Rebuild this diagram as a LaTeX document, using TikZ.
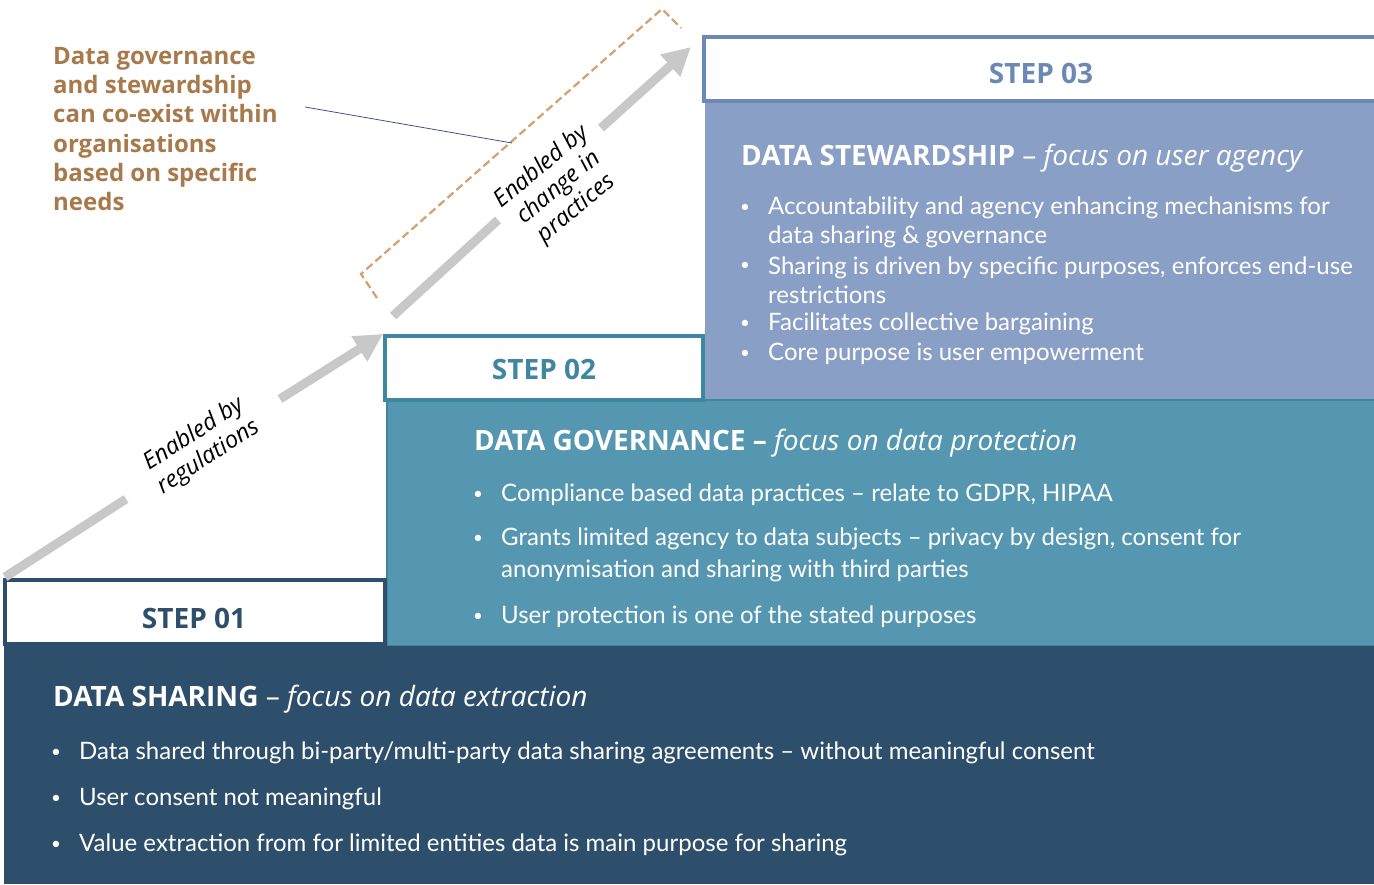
\documentclass[tikz,border=0pt]{standalone}
\usepackage{fontspec}
\setmainfont{Lato}
\newfontfamily\headfont[Ligatures=TeX]{Open Sans}
\usetikzlibrary{calc,arrows.meta}

\definecolor{shareblue}{HTML}{2E4F6B}
\definecolor{govfill}{HTML}{5596B0}
\definecolor{govline}{HTML}{3F86A1}
\definecolor{stewfill}{HTML}{8A9FC5}
\definecolor{stewline}{HTML}{6C89B6}
\definecolor{notebrown}{HTML}{A8794A}
\definecolor{bracketbrown}{HTML}{D2A475}
\definecolor{arrowgrey}{HTML}{C8C8C8}
\definecolor{leaderblue}{HTML}{4A4F8C}

\tikzset{
  stepbox/.style={draw, line width=4pt, fill=white, inner sep=0},
  steplabel/.style={font=\headfont\bfseries\fontsize{28}{30}\selectfont, inner sep=0},
  heading/.style={anchor=west, text=white, inner sep=0,
    font=\headfont\fontsize{28}{30}\selectfont},
  bullet/.style={anchor=west, text=white, inner sep=0,
    font=\fontsize{17}{20}\selectfont},
  item/.style={anchor=west, text=white, inner sep=0, align=left,
    font=\fontsize{24}{29}\selectfont},
  uparrow/.style={draw=arrowgrey, line width=9pt},
  enabled/.style={font=\headfont\itshape\fontsize{23.5}{27}\selectfont,
    align=center, inner sep=0}
}

\begin{document}
\begin{tikzpicture}[x=1pt, y=-1pt]
  \useasboundingbox (0,0) rectangle (1374,884);

  % panels
  \fill[stewfill] (705,101) rectangle (1374,400);
  \draw[fill=govfill, draw=govline, line width=1.5pt] (387,400) rectangle (1376,646);
  \fill[shareblue] (4,646) rectangle (1374,884);

  % step boxes
  \node[stepbox, draw=shareblue, minimum width=380, minimum height=64]
    (box1) at (195,612) {};
  \node[stepbox, draw=govline, minimum width=318, minimum height=64]
    (box2) at (544,368) {};
  \node[stepbox, draw=stewline, minimum width=675, minimum height=64]
    (box3) at (1041,69) {};

  \node[steplabel, text=shareblue] (step1) at (194,618) {STEP 01};
  \node[steplabel, text=govline] (step2) at (544,369) {STEP 02};
  \node[steplabel, text=stewline] (step3) at (1041,73) {STEP 03};

  % data stewardship
  \node[heading] (stewhead) at (741,158)
    {\bfseries DATA STEWARDSHIP \mdseries -- \itshape focus on user agency};
  \node[bullet] (sb1) at (740,208) {•};
  \node[item] (si1) at (768,222)
    {Accountability and agency enhancing mechanisms for\\data sharing \& governance};
  \node[bullet] (sb2) at (740,266) {•};
  \node[item] (si2) at (768,280)
    {Sharing is driven by specific purposes, enforces end-use\\restrictions};
  \node[bullet] (sb3) at (740,324) {•};
  \node[item] (si3) at (768,324) {Facilitates collective bargaining};
  \node[bullet] (sb4) at (740,354) {•};
  \node[item] (si4) at (768,354) {Core purpose is user empowerment};

  % data governance
  \node[heading] (govhead) at (474,443)
    {\bfseries DATA GOVERNANCE -- \mdseries\itshape focus on data protection};
  \node[bullet] (gb1) at (473,495) {•};
  \node[item] (gi1) at (501,495)
    {Compliance based data practices -- relate to GDPR, HIPAA};
  \node[bullet] (gb2) at (473,539) {•};
  \node[item, font=\fontsize{24}{32}\selectfont] (gi2) at (501,555)
    {Grants limited agency to data subjects -- privacy by design, consent for\\anonymisation and sharing with third parties};
  \node[bullet] (gb3) at (473,617) {•};
  \node[item] (gi3) at (501,617) {User protection is one of the stated purposes};

  % data sharing
  \node[heading] (sharehead) at (53,699)
    {\bfseries DATA SHARING \mdseries -- \itshape focus on data extraction};
  \node[bullet] (shb1) at (51,753) {•};
  \node[item] (shi1) at (79,753)
    {Data shared through bi-party/multi-party data sharing agreements -- without meaningful consent};
  \node[bullet] (shb2) at (51,799) {•};
  \node[item] (shi2) at (79,799) {User consent not meaningful};
  \node[bullet] (shb3) at (51,845) {•};
  \node[item] (shi3) at (79,845)
    {Value extraction from for limited entities data is main purpose for sharing};

  % arrows up the steps
  \coordinate (a1s) at (5,577);
  \coordinate (a1g) at (126,499);
  \coordinate (a1r) at (280,399);
  \coordinate (a1e) at (383,334);
  \draw[uparrow] (a1s) -- (a1g);
  \draw[uparrow, -{Triangle[length=28pt, width=28pt]}] (a1r) -- (a1e);
  \node[enabled, rotate=33] (regs) at (201,446) {Enabled by\\regulations};

  \coordinate (a2s) at (393,316);
  \coordinate (a2g) at (498,220);
  \coordinate (a2r) at (601,128);
  \coordinate (a2e) at (691,47);
  \draw[uparrow] (a2s) -- (a2g);
  \draw[uparrow, -{Triangle[length=28pt, width=28pt]}] (a2r) -- (a2e);
  \node[enabled, rotate=40] (practices) at (559,188)
    {Enabled by\\change in\\practices};

  % bracket and note
  \draw[bracketbrown, line width=2.3pt, dash pattern=on 8pt off 4pt]
    (377,298) -- (361,274) -- (662,9) -- (681,28);
  \node[anchor=north west, align=left, inner sep=0, text=notebrown,
    font=\headfont\bfseries\fontsize{24}{29.3}\selectfont]
    (note) at (53,47) {Data governance\\and stewardship\\can co-exist within\\organisations\\based on specific\\needs};
  \coordinate (notept) at (305,107);
  \coordinate (bracketpt) at (512,143);
  \draw[leaderblue, line width=0.8pt] (notept) -- (bracketpt);
\end{tikzpicture}
\end{document}
